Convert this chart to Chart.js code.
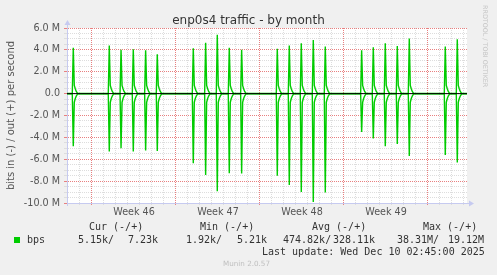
<!DOCTYPE html>
<html>
<head>
<meta charset="utf-8">
<title>enp0s4 traffic - by month</title>
<script src="https://cdn.jsdelivr.net/npm/chart.js"></script>
<style>
  body { margin: 0; background: #F0F0F0; }
  #wrap { position: relative; width: 497px; height: 275px; overflow: hidden; font-family: "DejaVu Sans", sans-serif; }
  #chart { position: absolute; left: 0; top: 0; }
  .t { position: absolute; white-space: pre; }
  .mono { font-family: "DejaVu Sans Mono", monospace; font-size: 10px; line-height: 12px; color: #333; }
</style>
</head>
<body>
<div id="wrap">
  <canvas id="chart" width="497" height="275"></canvas>
  <div class="t" style="left:0;width:497px;top:12px;text-align:center;font-size:12px;line-height:16px;color:#333">enp0s4 traffic - by month</div>
  <div class="t" style="left:481px;top:5px;writing-mode:vertical-rl;font-size:6.4px;color:#c4c4c4">RRDTOOL / TOBI OETIKER</div>

  <div class="t mono" style="left:89px;top:221px">Cur (-/+)</div>
  <div class="t mono" style="left:200px;top:221px">Min (-/+)</div>
  <div class="t mono" style="left:312px;top:221px">Avg (-/+)</div>
  <div class="t mono" style="left:423px;top:221px">Max (-/+)</div>

  <div class="t" style="left:14px;top:237px;width:6px;height:6px;background:#00CC00"></div>
  <div class="t mono" style="left:27px;top:234px">bps</div>
  <div class="t mono" style="left:78px;top:234px">5.15k/</div>
  <div class="t mono" style="left:128px;top:234px">7.23k</div>
  <div class="t mono" style="left:186px;top:234px">1.92k/</div>
  <div class="t mono" style="left:237px;top:234px">5.21k</div>
  <div class="t mono" style="left:283px;top:234px">474.82k/</div>
  <div class="t mono" style="left:333px;top:234px">328.11k</div>
  <div class="t mono" style="left:397px;top:234px">38.31M/</div>
  <div class="t mono" style="left:448px;top:234px">19.12M</div>

  <div class="t mono" style="left:262px;top:246px">Last update: Wed Dec 10 02:45:00 2025</div>
  <div class="t" style="left:223px;top:259px;font-size:7.2px;line-height:9px;color:#c0c0c0">Munin 2.0.57</div>
</div>

<script>
// time axis in days, 0 = Monday of week 46
const xMin = -2.083, xMax = 31.25;
const sample = 1 / 12;  // one 2-hour sample

const weekMid = [3.5, 10.5, 17.5, 24.5];
const weekLabels = ['Week 46', 'Week 47', 'Week 48', 'Week 49'];

// daily traffic bursts, values in Mbit/s
const spikeDay = [-1.56, 1.44, 2.42, 3.44, 4.47, 5.44, 8.44, 9.47, 10.44, 11.44, 12.47,
                  15.44, 16.44, 17.44, 18.44, 19.44, 22.47, 23.44, 24.44, 25.44, 26.44, 29.44, 30.44];
const outPeak = [4.2, 4.4, 4.0, 4.05, 3.96, 3.6, 4.14, 4.66, 5.39, 4.2, 4.0,
                 4.1, 4.4, 4.6, 4.9, 4.3, 3.96, 4.23, 4.6, 4.35, 5.05, 4.3, 4.96];
const inPeak = [-4.8, -5.3, -5.0, -5.3, -5.2, -5.25, -6.37, -7.44, -8.93, -7.29, -7.3,
                -7.5, -8.35, -9.0, -9.9, -9.05, -3.5, -4.1, -4.8, -4.6, -5.7, -5.6, -6.3];
const outTail = [0.75, 0.45, 0.2, 0.06];
const inTail = [-0.8, -0.45, -0.22, -0.07];
const outBase = 0.007, inBase = -0.005;

function series(peaks, tail, base) {
  const pts = [{x: xMin, y: base}];
  spikeDay.forEach((d, i) => {
    pts.push({x: d - sample, y: base}, {x: d, y: peaks[i]});
    tail.forEach((v, k) => pts.push({x: d + (k + 1) * sample, y: v}));
    pts.push({x: d + (tail.length + 1) * sample, y: base});
  });
  pts.push({x: xMax, y: base});
  return pts;
}

const majorGrid = '#e88080', minorGrid = '#dddddd', axisColor = '#c6caf0';

const frame = {
  id: 'frame',
  beforeDraw(c) {
    const a = c.chartArea, g = c.ctx;
    g.save();
    g.fillStyle = '#fff';
    g.fillRect(a.left, a.top, a.right - a.left, a.bottom - a.top);
    g.restore();
  },
  afterDraw(c) {
    const a = c.chartArea, g = c.ctx;
    const x0 = Math.round(a.left) + 0.5, y0 = Math.round(a.bottom) + 0.5;
    g.save();
    g.strokeStyle = axisColor;
    g.fillStyle = axisColor;
    g.lineWidth = 1;
    g.beginPath();
    g.moveTo(x0, a.top); g.lineTo(x0, a.top - 4);
    g.moveTo(x0, a.bottom); g.lineTo(x0, a.bottom + 3);
    g.moveTo(a.right, y0); g.lineTo(a.right + 3, y0);
    g.stroke();
    g.beginPath();
    g.moveTo(x0, a.top - 8); g.lineTo(x0 - 3, a.top - 3); g.lineTo(x0 + 3, a.top - 3);
    g.closePath(); g.fill();
    g.beginPath();
    g.moveTo(a.right + 7, y0); g.lineTo(a.right + 2, y0 - 3); g.lineTo(a.right + 2, y0 + 3);
    g.closePath(); g.fill();
    g.restore();
  }
};

Chart.defaults.font.family = 'DejaVu Sans';

new Chart(document.getElementById('chart'), {
  type: 'line',
  data: {
    datasets: [
      { data: [{x: xMin, y: 0}, {x: xMax, y: 0}], borderColor: '#000', borderWidth: 1 },
      { data: series(outPeak, outTail, outBase), borderColor: '#00CC00', borderWidth: 1.4 },
      { data: series(inPeak, inTail, inBase), borderColor: '#00CC00', borderWidth: 1.4 }
    ]
  },
  options: {
    responsive: false,
    animation: false,
    events: [],
    elements: { point: { radius: 0 }, line: { tension: 0, fill: false } },
    layout: { padding: { left: 0, top: 28, right: 30, bottom: 0 } },
    plugins: { legend: { display: false }, tooltip: { enabled: false } },
    scales: {
      x: {
        type: 'linear', min: xMin, max: xMax,
        afterBuildTicks: s => {
          const t = [];
          for (let d = -2; d <= 31; d++) t.push({value: d});
          weekMid.forEach(v => t.push({value: v}));
          s.ticks = t.sort((p, q) => p.value - q.value);
        },
        afterFit: s => { s.height = 72; },
        ticks: {
          autoSkip: false, maxRotation: 0, padding: 2,
          font: { size: 9.6 }, color: '#555',
          callback: v => { const i = weekMid.indexOf(v); return i < 0 ? '' : weekLabels[i]; }
        },
        grid: {
          tickLength: 2,
          color: ctx => {
            const v = ctx.tick ? ctx.tick.value : 0;
            if (!Number.isInteger(v)) return 'rgba(0,0,0,0)';
            return v % 7 === 0 ? majorGrid : minorGrid;
          }
        },
        border: { display: true, color: axisColor, dash: [1, 1] }
      },
      y: {
        min: -10, max: 6,
        afterBuildTicks: s => {
          const t = [];
          for (let v = -10; v <= 6; v += 0.5) t.push({value: v});
          s.ticks = t;
        },
        afterFit: s => { s.width = 67; },
        ticks: {
          autoSkip: false, padding: 4,
          font: { size: 9.6 }, color: '#555',
          callback: v => v % 2 !== 0 ? '' : (v === 0 ? '0.0' : v.toFixed(1) + ' M')
        },
        grid: {
          tickLength: 3,
          color: ctx => {
            const v = ctx.tick ? ctx.tick.value : 0;
            return v % 2 === 0 ? majorGrid : minorGrid;
          }
        },
        border: { display: true, color: axisColor, dash: [1, 1] },
        title: {
          display: true, text: 'bits in (-) / out (+) per second',
          font: { size: 10 }, color: '#555', padding: { top: 5, bottom: 0 }
        }
      }
    }
  },
  plugins: [frame]
});
</script>
</body>
</html>
